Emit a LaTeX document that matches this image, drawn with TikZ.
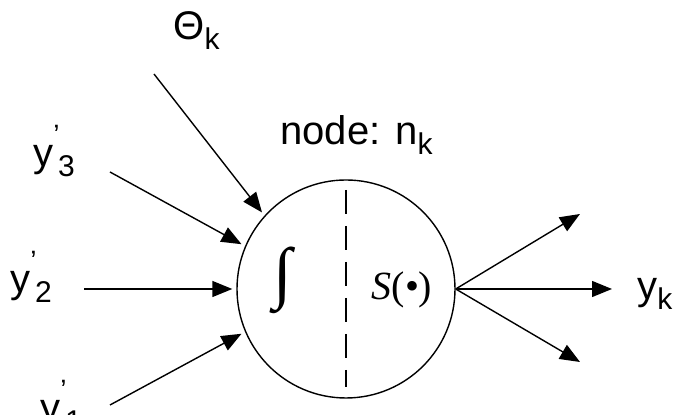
\documentclass[tikz,border=0pt]{standalone}
\usepackage{fontspec}
\setmainfont{Liberation Sans}
\newfontfamily\timesfont{Liberation Serif}
\usetikzlibrary{arrows.meta}
\newcommand{\lsub}[1]{\raisebox{-0.25em}{\fontsize{15}{15}\selectfont #1}}
\newcommand{\lpr}{\rlap{\raisebox{0.55em}{\fontsize{14}{14}\selectfont '}}\hspace{0.12em}}
\tikzset{
  neuron/.style={circle, draw=black, line width=0.7pt, minimum size=109pt, inner sep=0pt},
  arrow/.style={-{Triangle[length=10pt,width=8pt]}, line width=0.7pt, draw=black},
  divider/.style={line width=0.7pt, dash pattern=on 12pt off 6pt},
  lbl/.style={font=\fontsize{20}{24}\selectfont, inner sep=0pt}
}
\begin{document}
\begin{tikzpicture}[x=0.5pt,y=-0.5pt]
\useasboundingbox (0,0) rectangle (676,415);
% the node
\node[neuron] (nk) at (346,289) {};
\coordinate (divtop) at (346,190);
\coordinate (divbot) at (346,387);
\draw[divider] (divtop) -- (divbot);
\node[inner sep=0pt, font=\fontsize{34}{34}\selectfont\timesfont] (integ) at (283,280) {∫};
\node[inner sep=0pt, font=\fontsize{20}{24}\selectfont\timesfont] (sfun) at (402,290) {\textit{S}(\textbullet)};
% labels
\node[lbl, anchor=base west] (thlbl) at (173,40) {Θ\lsub{k}};
\node[lbl, anchor=base west] (nlbl) at (280,145) {node: n\lsub{k}};
\node[lbl, anchor=base west] (y3lbl) at (33,167) {y\lpr\lsub{3}};
\node[lbl, anchor=base west] (y2lbl) at (10,293) {y\lpr\lsub{2}};
\node[lbl, anchor=base west] (y1lbl) at (40,422) {y\lpr\lsub{1}};
\node[lbl, anchor=base west] (yklbl) at (637,300) {y\lsub{k}};
% inputs
\coordinate (thsrc) at (154,74);
\coordinate (y3src) at (110,172);
\coordinate (y2src) at (84,289);
\coordinate (y1src) at (110,405);
\draw[arrow, shorten >=2pt] (thsrc) -- (nk.138);
\draw[arrow, shorten >=2pt] (y3src) -- (nk.157);
\draw[arrow, shorten >=2pt] (y2src) -- (nk.180);
\draw[arrow, shorten >=2pt] (y1src) -- (nk.203);
% outputs
\coordinate (outa) at (580,214);
\coordinate (outb) at (612,289);
\coordinate (outc) at (580,362);
\draw[arrow] (nk.east) -- (outa);
\draw[arrow] (nk.east) -- (outb);
\draw[arrow] (nk.east) -- (outc);
\end{tikzpicture}
\end{document}
